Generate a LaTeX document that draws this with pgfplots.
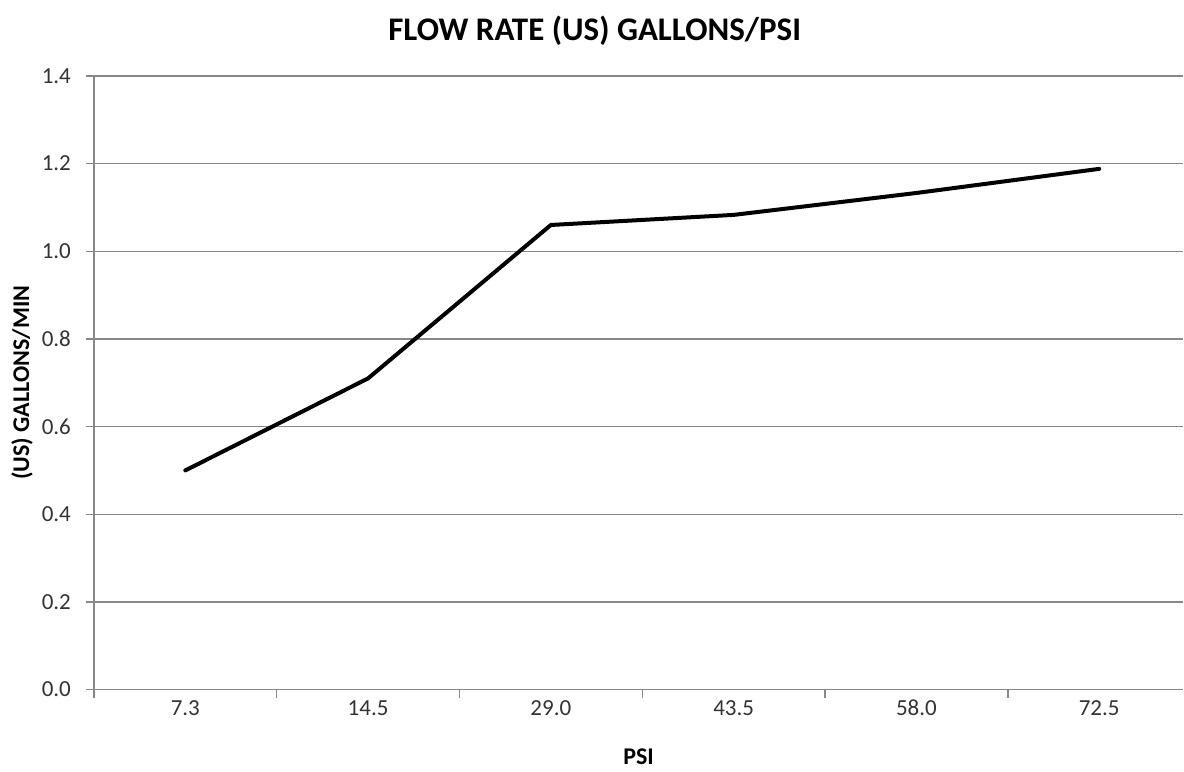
\documentclass[border=0pt]{standalone}
\usepackage{fontspec}
\setmainfont{Carlito}
\usepackage{pgfplots}
\pgfplotsset{compat=1.18}
\definecolor{axgray}{HTML}{888888}
\definecolor{txtgray}{HTML}{333333}
\begin{document}
\begin{tikzpicture}
\begin{axis}[name=ax, scale only axis, width=545pt, height=307pt,
  xmin=-0.5, xmax=5.46, ymin=0, ymax=1.4,
  xtick={0,...,5}, xticklabels={7.3,14.5,29.0,43.5,58.0,72.5},
  minor xtick={-0.5,0.5,1.5,2.5,3.5,4.5,5.5},
  ytick={0,0.2,...,1.4},
  yticklabel style={/pgf/number format/fixed, /pgf/number format/fixed zerofill, /pgf/number format/precision=1, xshift=-4pt},
  /pgf/number format/assume math mode=true,
  ymajorgrids, grid style={axgray, line width=0.75pt},
  axis x line*=bottom, axis y line*=left,
  axis line style={axgray, line width=0.75pt},
  tick align=outside,
  major tick length=4pt, minor tick length=4pt,
  major x tick style={draw=none},
  every tick/.style={axgray, line width=0.75pt},
  minor x tick style={axgray, line width=0.75pt},
  tick label style={font=\fontsize{11.5}{13}\selectfont, text=txtgray},
  xticklabel style={yshift=1.5pt, text height=1.5ex, text depth=0.25ex},
  xlabel={PSI}, ylabel={(US) GALLONS/MIN},
  label style={font=\bfseries\fontsize{12}{14}\selectfont},
  xlabel style={at={(axis description cs:0.5,0)}, anchor=center, yshift=-33.5pt},
  ylabel style={at={(axis description cs:0,0.5)}, anchor=center, yshift=36pt},
  title={FLOW RATE (US) GALLONS/PSI},
  title style={at={(axis description cs:0.5,1)}, anchor=center, xshift=-22pt, yshift=16.5pt, font=\bfseries\fontsize{16.5}{19}\selectfont},
]
\addplot[black, line width=2pt, line join=round, line cap=round, mark=none] coordinates {
(0,0.50) (1,0.71) (2,1.06) (3,1.083) (4,1.133) (5,1.188)
};
\end{axis}
\path[use as bounding box] ([shift={(-47pt,-39.5pt)}]ax.south west) rectangle ([shift={(0pt,38pt)}]ax.north east);
\end{tikzpicture}
\end{document}
